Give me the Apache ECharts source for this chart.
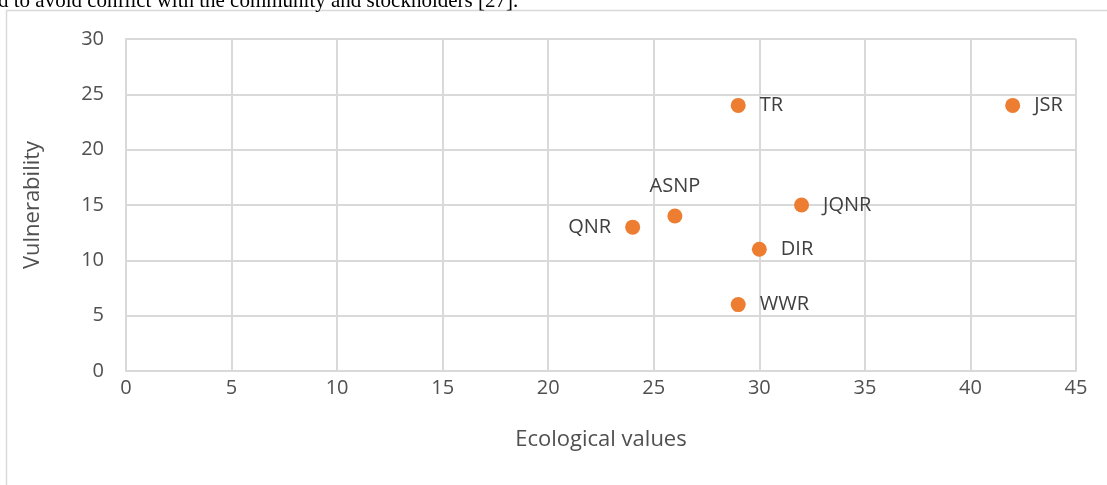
<!DOCTYPE html>
<html><head><meta charset="utf-8">
<script src="https://cdn.jsdelivr.net/npm/echarts@6/dist/echarts.min.js"></script>
<style>html,body{margin:0;padding:0;background:#fff}#c{width:1107px;height:485px}</style>
</head><body><div id="c"></div>
<script>
const names = ["TR","JSR","ASNP","QNR","JQNR","DIR","WWR"];
const ecoValues = [29,42,26,24,32,30,29];
const vulnValues = [24,24,14,13,15,11,6];
const labelPos = ["right","right","top","left","right","right","right"];
const xTicks = {min:0,max:45,interval:5};
const yTicks = {min:0,max:30,interval:5};

const font = '"Open Sans", sans-serif';
const data = names.map((n,i)=>({
  value:[ecoValues[i],vulnValues[i]], name:n,
  label:{position:labelPos[i], distance: labelPos[i]==='top'?12:14}
}));
const chart = echarts.init(document.getElementById('c'));
chart.setOption({
  animation:false,
  backgroundColor:'#fff',
  graphic:[
    {type:'rect', shape:{x:6.5,y:10.5,width:1200,height:600}, style:{fill:'none',stroke:'#d9d9d9',lineWidth:1.5}},
    {type:'text', x:-2, y:-9, style:{text:'d to avoid conflict with the community and stockholders [27].', font:'21px "Liberation Serif", serif', fill:'#000'}}
  ],
  grid:{left:126,right:31,top:39,bottom:114},
  xAxis:{type:'value',min:xTicks.min,max:xTicks.max,interval:xTicks.interval,
    name:'Ecological values',nameLocation:'middle',nameGap:58,
    nameTextStyle:{color:'#505050',fontSize:22,fontFamily:font},
    axisLine:{show:true,lineStyle:{color:'#d9d9d9',width:2}},axisTick:{show:false},
    axisLabel:{color:'#505050',fontSize:20,fontFamily:font,margin:7},
    splitLine:{show:true,lineStyle:{color:'#d9d9d9',width:2}}},
  yAxis:{type:'value',min:yTicks.min,max:yTicks.max,interval:yTicks.interval,
    name:'Vulnerability',nameLocation:'middle',nameGap:82,
    nameTextStyle:{color:'#505050',fontSize:22,fontFamily:font},
    axisLine:{show:true,lineStyle:{color:'#d9d9d9',width:2}},axisTick:{show:false},
    axisLabel:{color:'#505050',fontSize:20,fontFamily:font,margin:22},
    splitLine:{show:true,lineStyle:{color:'#d9d9d9',width:2}}},
  series:[{type:'scatter',symbol:'circle',symbolSize:15,
    itemStyle:{color:'#ED7D31',opacity:1},
    label:{show:true,formatter:p=>p.name,color:'#404040',fontSize:20,fontFamily:font},
    data:data}]
});
</script></body></html>
